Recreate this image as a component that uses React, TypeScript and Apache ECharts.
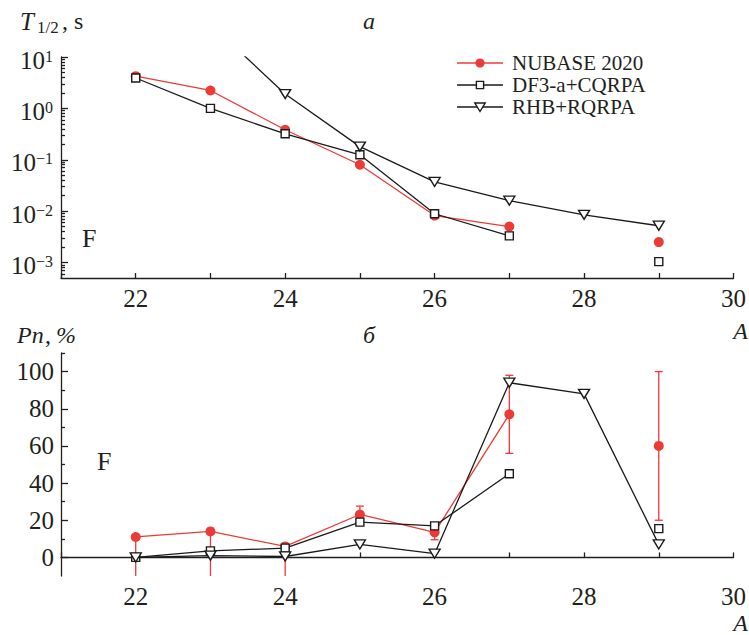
import React, { useEffect, useRef } from "react";
import * as echarts from "echarts";

// Mass numbers of the fluorine isotopes
const massNumbers = [22, 23, 24, 25, 26, 27, 28, 29];

// Half-lives T1/2, s (null: no value)
const halfLifeNubase = [4.23, 2.23, 0.384, 0.08, 0.0082, 0.005, null, 0.0025];
const halfLifeDf3 = [3.9, 1.0, 0.32, 0.125, 0.0089, 0.0033, null, 0.00104];
const halfLifeRhb = [null, 44, 1.9, 0.18, 0.037, 0.016, 0.0085, 0.0052];

// Delayed-neutron emission probabilities Pn, %
const pnNubase = [11, 14, 5.9, 23.1, 13.5, 77, null, 60];
const pnNubaseLow = [-15, -15, -15, 18.6, 9.5, 56, null, 20];
const pnNubaseHigh = [11, 14, 5.9, 27.6, 17.5, 98, null, 100];
const pnDf3 = [0, 3.5, 5, 19, 17, 45, null, 15.5];
const pnRhb = [0, 1, 0.5, 7, 2, 94, 88, 7];

// Axis ticks
const massTickLabels = [22, 24, 26, 28, 30];
const halfLifeDecades = [0.001, 0.01, 0.1, 1, 10];
const pnTickLabels = [0, 20, 40, 60, 80, 100];
const pnMinorTicks = [10, 30, 50, 70, 90, 110];

const HALF_LIFE_MIN = 5e-4;
const HALF_LIFE_MAX = 10;

const halfLifeMinorTicks: number[] = [];
for (let e = -4; e <= 0; e++) {
  for (let m = 2; m <= 9; m++) {
    const v = m * Math.pow(10, e);
    if (v > HALF_LIFE_MIN && v < HALF_LIFE_MAX) halfLifeMinorTicks.push(v);
  }
}

const SERIF = '"Liberation Serif", "Times New Roman", serif';
const INK = "#231f20";
const RED = "#ec3a36";
const BLACK = "#1a1a1a";

const NAMES = ["NUBASE 2020", "DF3-a+CQRPA", "RHB+RQRPA"];

const pairs = (vals: (number | null)[]) =>
  massNumbers.map((a, i) => [a, vals[i] === null ? "-" : vals[i]]);

const errorRows = massNumbers
  .map((a, i) => [a, pnNubaseLow[i], pnNubaseHigh[i]])
  .filter((r) => r[1] !== null);

const axisLineStyle = { color: INK, width: 1.3 };

function massAxis(gridIndex: number) {
  return {
    gridIndex,
    type: "value",
    min: 21,
    max: 30,
    interval: 1,
    axisLine: { lineStyle: axisLineStyle },
    axisTick: { inside: true, length: 5, lineStyle: axisLineStyle },
    axisLabel: {
      customValues: massTickLabels,
      fontFamily: SERIF,
      fontSize: 25,
      color: INK,
      margin: 8,
    },
    splitLine: { show: false },
  };
}

const supLabel = (v: number) => {
  const e = Math.round(Math.log10(v));
  const s = e < 0 ? "\u2212" + Math.abs(e) : String(e);
  return "{b|10}{e|" + s + "}";
};

const seriesStyles = {
  nubase: {
    symbol: "circle",
    symbolSize: 10,
    lineStyle: { color: RED, width: 1.3 },
    itemStyle: { color: RED },
    z: 3,
  },
  df3: {
    symbol: "rect",
    symbolSize: 8,
    lineStyle: { color: BLACK, width: 1.3 },
    itemStyle: { color: "#ffffff", borderColor: BLACK, borderWidth: 1.4 },
    z: 4,
  },
  rhb: {
    symbol: "triangle",
    symbolRotate: 180,
    symbolSize: [11, 9],
    lineStyle: { color: BLACK, width: 1.3 },
    itemStyle: { color: "#ffffff", borderColor: BLACK, borderWidth: 1.4 },
    z: 5,
  },
};

const textStyle = (text: string, font: string, extra: any = {}) => ({
  text,
  fill: INK,
  font,
  align: "left",
  verticalAlign: "middle",
  textAlign: "left",
  textVerticalAlign: "middle",
  ...extra,
});

// Legend key: a short line with the series marker in its middle, then the name
function legendRow(i: number, top: number) {
  const lineColor = i === 0 ? RED : BLACK;
  const cx = 23;
  const children: any[] = [
    {
      type: "line",
      shape: { x1: 0, y1: top, x2: 46, y2: top },
      style: { stroke: lineColor, lineWidth: 1.3 },
    },
  ];
  if (i === 0) {
    children.push({ type: "circle", shape: { cx, cy: top, r: 4.6 }, style: { fill: RED } });
  } else if (i === 1) {
    children.push({
      type: "rect",
      shape: { x: cx - 3.6, y: top - 3.6, width: 7.2, height: 7.2 },
      style: { fill: "#ffffff", stroke: BLACK, lineWidth: 1.4 },
    });
  } else {
    children.push({
      type: "polygon",
      shape: { points: [[cx - 5.2, top - 4], [cx + 5.2, top - 4], [cx, top + 4.5]] },
      style: { fill: "#ffffff", stroke: BLACK, lineWidth: 1.4 },
    });
  }
  children.push({
    type: "text",
    x: 55,
    y: top,
    style: textStyle(NAMES[i], "21px " + SERIF),
  });
  return children;
}

export default function App() {
  const ref = useRef<HTMLDivElement>(null);

  useEffect(() => {
    if (!ref.current) return;
    const chart = echarts.init(ref.current, null, { renderer: "svg" });

    const textEl = (x: number, y: number, text: string, font: string, extra: any = {}) => ({
      type: "text",
      x,
      y,
      style: textStyle(text, font, extra),
    });

    chart.setOption({
      animation: false,
      backgroundColor: "#ffffff",
      grid: [
        { left: 61, top: 57, width: 673, height: 221, containLabel: false },
        { left: 61, top: 353, width: 673, height: 223, containLabel: false },
      ],
      xAxis: [massAxis(0), massAxis(1)],
      yAxis: [
        {
          gridIndex: 0,
          type: "log",
          logBase: 10,
          position: "left",
          min: HALF_LIFE_MIN,
          max: HALF_LIFE_MAX,
          axisLine: { lineStyle: axisLineStyle },
          axisTick: { inside: true, length: 7, customValues: halfLifeDecades, lineStyle: axisLineStyle },
          axisLabel: {
            customValues: halfLifeDecades,
            formatter: supLabel,
            margin: 8,
            padding: [6, 0, 0, 0],
            rich: {
              b: { fontFamily: SERIF, fontSize: 25, lineHeight: 24, color: INK },
              e: { fontFamily: SERIF, fontSize: 16, lineHeight: 12, verticalAlign: "top", color: INK },
            },
          },
          splitLine: { show: false },
        },
        {
          gridIndex: 0,
          type: "log",
          logBase: 10,
          position: "left",
          offset: 0,
          min: HALF_LIFE_MIN,
          max: HALF_LIFE_MAX,
          axisLine: { show: false },
          axisTick: { inside: true, length: 4, customValues: halfLifeMinorTicks, lineStyle: axisLineStyle },
          axisLabel: { show: false },
          splitLine: { show: false },
        },
        {
          gridIndex: 1,
          type: "value",
          position: "left",
          min: -10,
          max: 110,
          axisLine: { lineStyle: axisLineStyle },
          axisTick: { inside: true, length: 7, customValues: pnTickLabels, lineStyle: axisLineStyle },
          axisLabel: {
            customValues: pnTickLabels,
            fontFamily: SERIF,
            fontSize: 25,
            color: INK,
            margin: 7,
          },
          splitLine: { show: false },
        },
        {
          gridIndex: 1,
          type: "value",
          position: "left",
          offset: 0,
          min: -10,
          max: 110,
          axisLine: { show: false },
          axisTick: { inside: true, length: 4, customValues: pnMinorTicks, lineStyle: axisLineStyle },
          axisLabel: { show: false },
          splitLine: { show: false },
        },
      ],
      series: [
        {
          name: NAMES[0],
          type: "line",
          xAxisIndex: 0,
          yAxisIndex: 0,
          data: pairs(halfLifeNubase),
          ...seriesStyles.nubase,
        },
        {
          name: NAMES[1],
          type: "line",
          xAxisIndex: 0,
          yAxisIndex: 0,
          data: pairs(halfLifeDf3),
          ...seriesStyles.df3,
        },
        {
          name: NAMES[2],
          type: "line",
          xAxisIndex: 0,
          yAxisIndex: 0,
          data: pairs(halfLifeRhb),
          clip: true,
          ...seriesStyles.rhb,
        },
        {
          name: "NUBASE 2020 Pn error",
          type: "custom",
          xAxisIndex: 1,
          yAxisIndex: 2,
          clip: true,
          z: 2,
          data: errorRows,
          renderItem: (params: any, api: any) => {
            const a = api.value(0);
            const lo = api.coord([a, api.value(1)]);
            const hi = api.coord([a, api.value(2)]);
            const cap = 4;
            const st = { stroke: RED, lineWidth: 1.3 };
            return {
              type: "group",
              children: [
                { type: "line", shape: { x1: lo[0], y1: lo[1], x2: hi[0], y2: hi[1] }, style: st },
                { type: "line", shape: { x1: lo[0] - cap, y1: lo[1], x2: lo[0] + cap, y2: lo[1] }, style: st },
                { type: "line", shape: { x1: hi[0] - cap, y1: hi[1], x2: hi[0] + cap, y2: hi[1] }, style: st },
              ],
            };
          },
        },
        {
          name: NAMES[0],
          type: "line",
          xAxisIndex: 1,
          yAxisIndex: 2,
          data: pairs(pnNubase),
          ...seriesStyles.nubase,
        },
        {
          name: NAMES[1],
          type: "line",
          xAxisIndex: 1,
          yAxisIndex: 2,
          data: pairs(pnDf3),
          ...seriesStyles.df3,
        },
        {
          name: NAMES[2],
          type: "line",
          xAxisIndex: 1,
          yAxisIndex: 2,
          data: pairs(pnRhb),
          ...seriesStyles.rhb,
        },
      ],
      graphic: [
        {
          type: "group",
          x: 457,
          y: 0,
          children: [...legendRow(0, 63), ...legendRow(1, 85), ...legendRow(2, 107)],
        },
        // Axis title T_{1/2}, s
        textEl(20, 21, "T", "italic 25px " + SERIF),
        textEl(37, 27, "1/2", "17px " + SERIF),
        textEl(62, 21, ", s", "24px " + SERIF),
        // Axis title Pn, %
        textEl(17, 335, "Pn", "italic 24px " + SERIF),
        textEl(45, 335, ",", "24px " + SERIF),
        textEl(56, 335, "%", "italic 24px " + SERIF),
        textEl(363, 21, "\u0430", "italic 24px " + SERIF),
        textEl(363, 335, "\u0431", "italic 24px " + SERIF),
        textEl(82, 238, "F", "26px " + SERIF),
        textEl(97, 461, "F", "26px " + SERIF),
        textEl(748, 331, "A", "italic 24px " + SERIF, { align: "right", textAlign: "right" }),
        textEl(748, 623, "A", "italic 24px " + SERIF, { align: "right", textAlign: "right" }),
      ],
    });

    return () => chart.dispose();
  }, []);

  return (
    <div
      ref={ref}
      style={{ position: "absolute", left: 0, top: 0, width: 749, height: 635 }}
    />
  );
}
